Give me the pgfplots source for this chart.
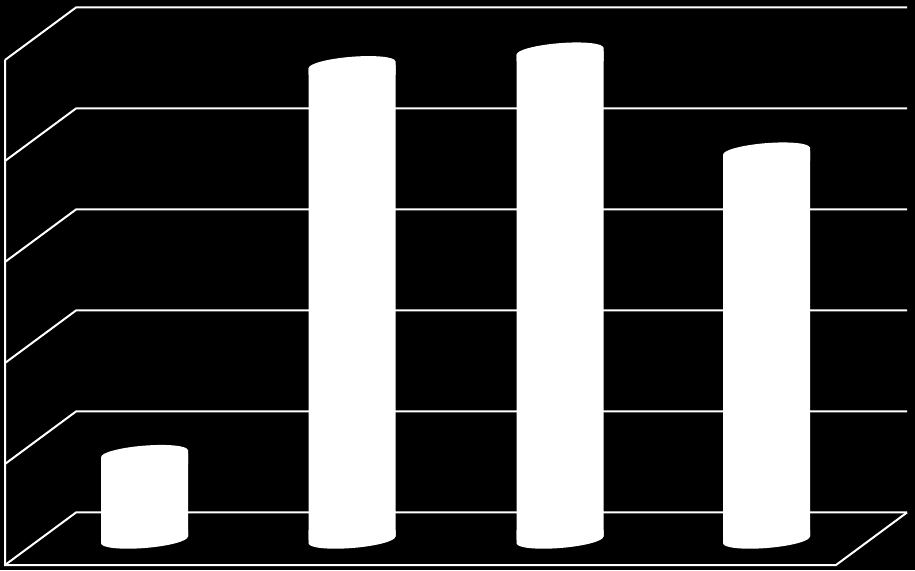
\documentclass[border=0pt]{standalone}
\usepackage{pgfplots}
\pgfplotsset{compat=1.18}
% top cap of a cylinder: hides the body corner that pokes out on the left
% and fills the notch on the right, then draws the tilted ellipse
\pgfdeclareplotmark{captop}{%
  \pgfsetfillcolor{black}%
  \pgfpathmoveto{\pgfpoint{0pt}{0pt}}%
  \pgfpathlineto{\pgfpoint{-44.5pt}{-3.6pt}}%
  \pgfpathlineto{\pgfpoint{-44.5pt}{1.5pt}}%
  \pgfpathlineto{\pgfpoint{0pt}{1.5pt}}%
  \pgfpathclose\pgfusepathqfill
  \pgfsetfillcolor{white}%
  \pgfpathmoveto{\pgfpoint{-43.5pt}{-3.5pt}}%
  \pgfpathlineto{\pgfpoint{43.5pt}{3.5pt}}%
  \pgfpathlineto{\pgfpoint{43.5pt}{-10pt}}%
  \pgfpathlineto{\pgfpoint{-43.5pt}{-10pt}}%
  \pgfpathclose\pgfusepathqfill
  \pgfpathellipse{\pgfpointorigin}{\pgfpointpolar{4.6}{43.5pt}}{\pgfpointpolar{94.6}{8pt}}%
  \pgfusepathqfill}
% bottom cap
\pgfdeclareplotmark{capbot}{%
  \pgfsetfillcolor{black}%
  \pgfpathmoveto{\pgfpoint{0pt}{0pt}}%
  \pgfpathlineto{\pgfpoint{44.5pt}{3.6pt}}%
  \pgfpathlineto{\pgfpoint{44.5pt}{-1.5pt}}%
  \pgfpathlineto{\pgfpoint{0pt}{-1.5pt}}%
  \pgfpathclose\pgfusepathqfill
  \pgfsetfillcolor{white}%
  \pgfpathmoveto{\pgfpoint{-43.5pt}{-3.5pt}}%
  \pgfpathlineto{\pgfpoint{43.5pt}{3.5pt}}%
  \pgfpathlineto{\pgfpoint{43.5pt}{10pt}}%
  \pgfpathlineto{\pgfpoint{-43.5pt}{10pt}}%
  \pgfpathclose\pgfusepathqfill
  \pgfpathellipse{\pgfpointorigin}{\pgfpointpolar{4.6}{43.5pt}}{\pgfpointpolar{94.6}{8pt}}%
  \pgfusepathqfill}
\begin{document}
\begin{tikzpicture}
\begin{axis}[
  scale only axis, width=915pt, height=570pt,
  xmin=0, xmax=915, ymin=-5.94, ymax=106.93,
  axis line style={draw=none}, ticks=none,
  axis background/.style={fill=black},
  clip=false,
]
% back wall and left wall grid, floor
\pgfplotsinvokeforeach{0,1,2,3,4,5}{
  \draw[white, line width=2pt, line join=miter]
    (axis cs:5,{#1*20-4.95}) -- (axis cs:76,{#1*20+5.45}) -- (axis cs:907,{#1*20+5.45});
}
\draw[white, line width=2pt, line join=miter]
  (axis cs:5,{100-4.95}) -- (axis cs:5,-4.95) -- (axis cs:836,-4.95) -- (axis cs:907,5.45);
% cylinder bodies
\addplot[ybar, bar width=87, bar shift=0pt, fill=white, draw=none]
  coordinates {(144.5,17.1) (352,94.1) (560,96.8) (766.5,77.0)};
% bottom caps
\addplot[only marks, mark=capbot, mark options={draw=none}]
  coordinates {(144.5,0) (352,0) (560,0) (766.5,0)};
% top caps
\addplot[only marks, mark=captop, mark options={draw=none}]
  coordinates {(144.5,17.1) (352,94.1) (560,96.8) (766.5,77.0)};
\end{axis}
\end{tikzpicture}
\end{document}
